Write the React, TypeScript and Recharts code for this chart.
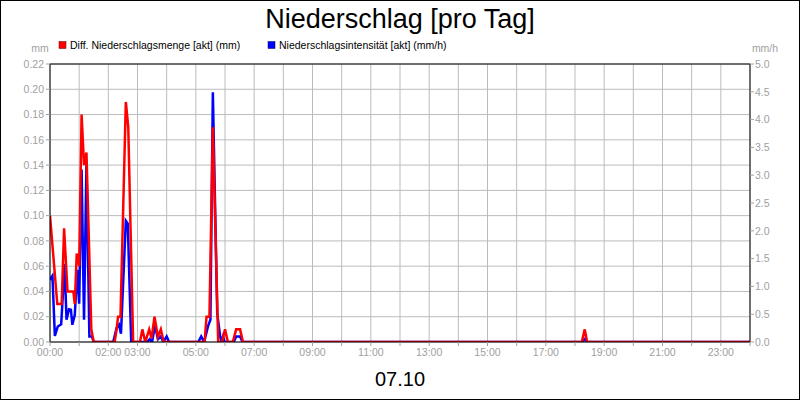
import React from 'react';
import { LineChart, Line, XAxis, YAxis, CartesianGrid, ReferenceLine } from 'recharts';

// Diff. Niederschlagsmenge [akt] (mm) — time in minutes since 00:00
const mengeMinutes = [0, 15, 24, 29, 36, 48, 51, 55, 59, 60, 65, 70, 75, 85, 90, 133, 137, 140, 145, 156, 161, 171, 185, 190, 196, 204, 209, 215, 222, 228, 234, 318, 322, 328, 335, 346, 354, 360, 366, 376, 383, 391, 397, 1094, 1100, 1105, 1440];
const mengeValues = [0.10, 0.03, 0.03, 0.09, 0.04, 0.04, 0.03, 0.07, 0.065, 0.06, 0.18, 0.14, 0.15, 0.01, 0, 0, 0.01, 0.02, 0.02, 0.19, 0.17, 0, 0, 0.01, 0, 0.01, 0.003, 0.02, 0.004, 0.01, 0, 0, 0.02, 0.02, 0.17, 0, 0, 0.01, 0, 0, 0.01, 0.01, 0, 0, 0.01, 0, 0];

// Niederschlagsintensität [akt] (mm/h)
const intensMinutes = [0, 5, 10, 16, 23, 30, 34, 39, 43, 46, 51, 56, 60, 65, 70, 75, 81, 86, 90, 130, 137, 142, 146, 156, 160, 167, 200, 205, 210, 216, 222, 228, 233, 240, 245, 305, 311, 317, 325, 330, 335, 344, 350, 353, 356, 359, 378, 383, 391, 396, 1095, 1100, 1105, 1440];
const intensValues = [1.12, 1.19, 0.11, 0.28, 0.32, 1.4, 0.4, 0.59, 0.58, 0.31, 0.49, 1.3, 0.69, 3.1, 0.4, 3.2, 0.1, 0.1, 0, 0, 0.25, 0.31, 0.15, 2.18, 2.13, 0, 0, 0.05, 0, 0.3, 0.05, 0.1, 0, 0.1, 0, 0, 0.1, 0, 0.28, 0.4, 4.49, 0.52, 0.1, 0, 0.1, 0, 0, 0.1, 0.1, 0, 0, 0.05, 0, 0];

const hourTicks = [0, 60, 120, 180, 240, 300, 360, 420, 480, 540, 600, 660, 720, 780, 840, 900, 960, 1020, 1080, 1140, 1200, 1260, 1320, 1380, 1440];
const xTickLabels = ['00:00', '02:00', '03:00', '05:00', '07:00', '09:00', '11:00', '13:00', '15:00', '17:00', '19:00', '21:00', '23:00'];
const leftTicks = [0, 0.02, 0.04, 0.06, 0.08, 0.1, 0.12, 0.14, 0.16, 0.18, 0.2, 0.22];
const rightTicks = [0, 0.5, 1, 1.5, 2, 2.5, 3, 3.5, 4, 4.5, 5];

const title = 'Niederschlag [pro Tag]';
const dateLabel = '07.10';
const mengeName = 'Diff. Niederschlagsmenge [akt] (mm)';
const intensName = 'Niederschlagsintensität [akt] (mm/h)';

const mengeData = mengeMinutes.map((t, i) => ({ t, v: mengeValues[i] }));
const intensData = intensMinutes.map((t, i) => ({ t, v: intensValues[i] }));

const FONT = '"Liberation Sans", Arial, sans-serif';
const GRAY = '#a0a0a0';

const fmtX = (m: number) => {
  const h = Math.floor(m / 60);
  const s = (h < 10 ? '0' : '') + h + ':00';
  return xTickLabels.includes(s) ? s : '';
};

export default function App() {
  return (
    <div style={{ position: 'absolute', left: 0, top: 0, width: 800, height: 400, background: '#fff' }}>
      <LineChart width={800} height={400} margin={{ top: 64, right: 0, bottom: 0, left: 0 }}>
        <CartesianGrid yAxisId="left" stroke="#bcbcbc" strokeWidth={1} />
        <XAxis
          type="number"
          dataKey="t"
          domain={[0, 1440]}
          ticks={hourTicks}
          tickFormatter={fmtX}
          interval={0}
          height={58}
          axisLine={{ stroke: '#000' }}
          tickLine={{ stroke: GRAY }}
          tickSize={4}
          tickMargin={3}
          tick={{ fill: GRAY, fontSize: 10.5, fontFamily: FONT }}
          allowDataOverflow
        />
        <YAxis
          yAxisId="left"
          domain={[0, 0.22]}
          ticks={leftTicks}
          interval={0}
          width={50}
          tickFormatter={(v: number) => v.toFixed(2)}
          axisLine={{ stroke: '#000' }}
          tickLine={{ stroke: GRAY }}
          tickSize={4}
          tickMargin={2}
          tick={{ fill: GRAY, fontSize: 10.5, fontFamily: FONT }}
          allowDataOverflow
        />
        <YAxis
          yAxisId="right"
          orientation="right"
          domain={[0, 5]}
          ticks={rightTicks}
          interval={0}
          width={50}
          tickFormatter={(v: number) => v.toFixed(1)}
          axisLine={{ stroke: '#000' }}
          tickLine={{ stroke: GRAY }}
          tickSize={4}
          tickMargin={1}
          tick={{ fill: GRAY, fontSize: 10.5, fontFamily: FONT }}
          allowDataOverflow
        />
        <ReferenceLine yAxisId="left" y={0.22} stroke="#000" strokeWidth={1} />
        <Line
          yAxisId="right"
          data={intensData}
          dataKey="v"
          type="linear"
          stroke="#0000ff"
          strokeWidth={2.5}
          dot={false}
          activeDot={false}
          isAnimationActive={false}
        />
        <Line
          yAxisId="left"
          data={mengeData}
          dataKey="v"
          type="linear"
          stroke="#ff0000"
          strokeWidth={2.5}
          dot={false}
          activeDot={false}
          isAnimationActive={false}
        />
      </LineChart>
      <svg width={800} height={400} style={{ position: 'absolute', left: 0, top: 0, pointerEvents: 'none' }}>
        <rect x={0.5} y={0.5} width={799} height={399} fill="none" stroke="#000" />
        <text x={400} y={28} textAnchor="middle" fontSize={27} fontFamily={FONT} fill="#000">{title}</text>
        <rect x={59} y={41.5} width={7} height={7} fill="#ff0000" stroke="#600" strokeWidth={0.5} />
        <text x={70} y={49} fontSize={10.5} fontFamily={FONT} fill="#000">{mengeName}</text>
        <rect x={268} y={41.5} width={7} height={7} fill="#0000ff" stroke="#006" strokeWidth={0.5} />
        <text x={279} y={49} fontSize={10.5} fontFamily={FONT} fill="#000">{intensName}</text>
        <text x={40} y={52} textAnchor="middle" fontSize={10.5} fontFamily={FONT} fill={GRAY}>mm</text>
        <text x={765} y={52} textAnchor="middle" fontSize={10.5} fontFamily={FONT} fill={GRAY}>mm/h</text>
        <text x={400} y={386} textAnchor="middle" fontSize={20} fontFamily={FONT} fill="#000">{dateLabel}</text>
      </svg>
    </div>
  );
}
